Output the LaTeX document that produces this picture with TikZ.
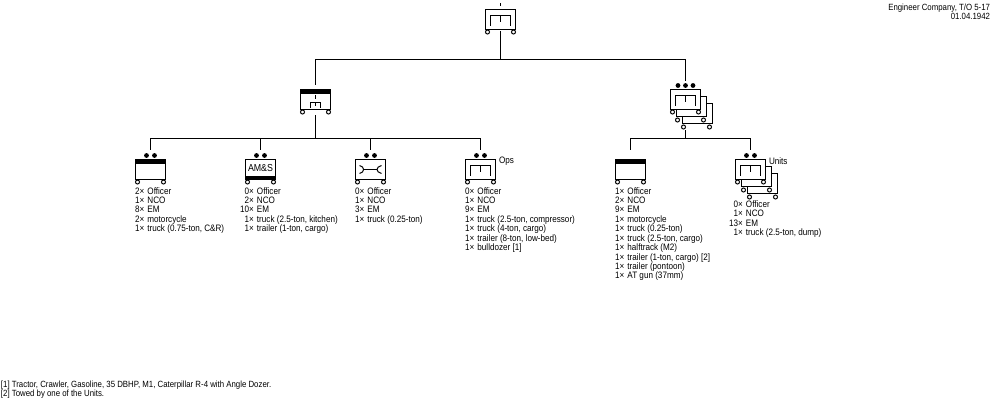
\documentclass[tikz,border=0pt]{standalone}
\usepackage{fontspec}
\setmainfont[FakeStretch=0.87]{Liberation Sans}
\tikzset{
    unitbox/.style={draw, fill=white, line width=0.75pt, minimum width=22.5pt, minimum height=15pt, inner sep=0pt, outer sep=0pt},
    link/.style={line width=0.75pt},
    wheel/.style={draw, fill=white, line width=0.75pt},
    pips/.style={fill=black},
    txt/.style={inner sep=0pt, outer sep=0pt, anchor=north west, font=\fontsize{7}{6.75}\selectfont},
    smalltxt/.style={txt, font=\fontsize{6.75}{6.75}\selectfont},
}
\newcommand{\lds}[1]{\begin{tabular}{@{}r@{\hspace{2.4pt}}l@{}}#1\end{tabular}}
\begin{document}
\begin{tikzpicture}[x=0.75pt, y=-0.75pt]
    \useasboundingbox (0,0) rectangle (1000,400);

    % stacked copies come first
    \node[unitbox] (platc) at (697.5,113.5) {};
    \node[unitbox] (platb) at (691.5,106.5) {};
    \node[unitbox] (platd) at (762.5,183.5) {};
    \node[unitbox] (plate) at (756.5,176.5) {};
    \foreach \wx/\wy in {683.5/127, 709.5/127, 677.5/120, 703.5/120, 749.5/197, 775.5/197, 743.5/190, 769.5/190}
        \draw[wheel] (\wx,\wy) circle (2);

    % the boxes
    \node[unitbox] (coy) at (500.5,19.5) {};
    \node[unitbox] (hq) at (315.5,99.5) {};
    \node[unitbox] (plat) at (685.5,99.5) {};
    \node[unitbox] (cr) at (150.5,169.5) {};
    \node[unitbox, font=\fontsize{7.6}{8}\selectfont] (ams) at (260.5,169.5) {\raisebox{2pt}{AM\&S}};
    \node[unitbox] (maint) at (370.5,169.5) {};
    \node[unitbox] (ops) at (480.5,169.5) {};
    \node[unitbox] (pltq) at (630.5,169.5) {};
    \node[unitbox] (units) at (750.5,169.5) {};

    % wheels
    \foreach \wx/\wy in {487.5/32, 513.5/32, 302.5/112, 328.5/112, 672.5/112, 698.5/112,
        137.5/182, 163.5/182, 247.5/182, 273.5/182, 357.5/182, 383.5/182, 467.5/182, 493.5/182,
        617.5/182, 643.5/182, 737.5/182, 763.5/182}
        \draw[wheel] (\wx,\wy) circle (2);

    % black bands
    \fill (hq.north west) rectangle ([yshift=-3pt]hq.north east);
    \fill (cr.north west) rectangle ([yshift=-3pt]cr.north east);
    \fill (pltq.north west) rectangle ([yshift=-3pt]pltq.north east);
    \fill (ams.south west) rectangle ([yshift=3pt]ams.south east);

    % pips
    \foreach \wx in {146.5, 154.5, 256.5, 264.5, 366.5, 374.5, 476.5, 484.5, 746.5, 754.5}
        \fill[pips] (\wx,155.5) circle (2.4);
    \foreach \wx in {678, 685.5, 693}
        \fill[pips] (\wx,85.5) circle (2.4);

    % branch symbols
    \draw[link] (490.5,25.5) -- (490.5,15.5) -- (510.5,15.5) -- (510.5,25.5) (500.5,15.5) -- (500.5,21.5);
    \draw[link] (310.5,107.5) -- (310.5,102.5) -- (320.5,102.5) -- (320.5,107.5) (315.5,102.5) -- (315.5,105.5) (315.5,95) -- (315.5,99);
    \draw[link] (675.5,105.5) -- (675.5,95.5) -- (695.5,95.5) -- (695.5,105.5) (685.5,95.5) -- (685.5,101.5);
    \draw[link] (470.5,175.5) -- (470.5,165.5) -- (490.5,165.5) -- (490.5,175.5) (480.5,165.5) -- (480.5,171.5);
    \draw[link] (740.5,175.5) -- (740.5,165.5) -- (760.5,165.5) -- (760.5,175.5) (750.5,165.5) -- (750.5,171.5);
    \draw[link] (359.5,165.5) .. controls (362.5,166) and (363.5,168) .. (363.5,169.5) .. controls (363.5,171) and (362.5,173) .. (359.5,173.5);
    \draw[link] (381.5,165.5) .. controls (378.5,166) and (377,168) .. (377,169.5) .. controls (377,171) and (378.5,173) .. (381.5,173.5);
    \draw[link] (363.5,169.5) -- (377,169.5);

    % connectors
    \coordinate (busA) at (500.5,59.5);
    \coordinate (busB) at (315.5,138.5);
    \coordinate (busC) at (685.5,138.5);
    \coordinate (coyout) at (500.5,31);
    \coordinate (hqout) at (315.5,115);
    \coordinate (platout) at (685.5,130);
    \coordinate (coyin) at (500.5,3);
    \draw[link] (coyin) -- ([yshift=3pt]coy.north);
    \draw[link] (coyout) -- (busA);
    \draw[link, shorten >=3.75pt] (busA) -| (hq.north);
    \draw[link, shorten >=6.75pt] (busA) -| (plat.north);
    \draw[link] (hqout) -- (busB);
    \draw[link] (platout) -- (busC);
    \draw[link, shorten >=7.5pt] (busB) -| (cr.north);
    \draw[link, shorten >=7.5pt] (busB) -| (ams.north);
    \draw[link, shorten >=7.5pt] (busB) -| (maint.north);
    \draw[link, shorten >=7.5pt] (busB) -| (ops.north);
    \draw[link, shorten >=7.5pt] (busC) -| (pltq.north);
    \draw[link, shorten >=7.5pt] (busC) -| (units.north);

    % labels
    \node[txt] (opslbl) at (499,157) {Ops};
    \node[txt] (unitslbl) at (769,158) {Units};
    \node[txt] (crlds) at (135,187.5) {\lds{2× & Officer\\ 1× & NCO\\ 8× & EM\\ 2× & motorcycle\\ 1× & truck (0.75-ton, C\&R)}};
    \node[txt] (amslds) at (240,187.5) {\lds{0× & Officer\\ 2× & NCO\\ 10× & EM\\ 1× & truck (2.5-ton, kitchen)\\ 1× & trailer (1-ton, cargo)}};
    \node[txt] (maintlds) at (355,187.5) {\lds{0× & Officer\\ 1× & NCO\\ 3× & EM\\ 1× & truck (0.25-ton)}};
    \node[txt] (opslds) at (465,187.5) {\lds{0× & Officer\\ 1× & NCO\\ 9× & EM\\ 1× & truck (2.5-ton, compressor)\\ 1× & truck (4-ton, cargo)\\ 1× & trailer (8-ton, low-bed)\\ 1× & bulldozer [1]}};
    \node[txt] (pltqlds) at (615,187.5) {\lds{1× & Officer\\ 2× & NCO\\ 9× & EM\\ 1× & motorcycle\\ 1× & truck (0.25-ton)\\ 1× & truck (2.5-ton, cargo)\\ 1× & halftrack (M2)\\ 1× & trailer (1-ton, cargo) [2]\\ 1× & trailer (pontoon)\\ 1× & AT gun (37mm)}};
    \node[txt] (unitslds) at (729,201) {\lds{0× & Officer\\ 1× & NCO\\ 13× & EM\\ 1× & truck (2.5-ton, dump)}};
    \node[smalltxt, anchor=north east, align=right] (title) at (990,3.5) {Engineer Company, T/O 5-17\\01.04.1942};
    \node[smalltxt, align=left] (notes) at (1,380.5) {[1] Tractor, Crawler, Gasoline, 35 DBHP, M1, Caterpillar R-4 with Angle Dozer.\\{}[2] Towed by one of the Units.};
\end{tikzpicture}
\end{document}
